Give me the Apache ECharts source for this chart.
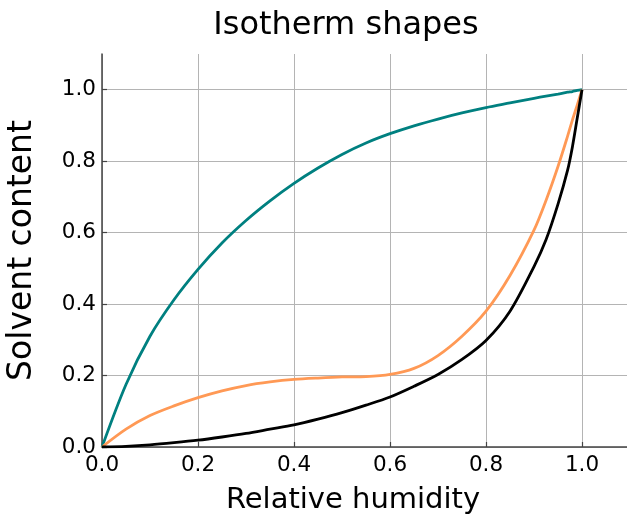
<!DOCTYPE html>
<html>
<head>
<meta charset="utf-8">
<script src="https://cdn.jsdelivr.net/npm/echarts@6/dist/echarts.min.js"></script>
<style>
  html, body { margin: 0; padding: 0; background: #fff; }
  #chart { width: 627px; height: 514px; }
</style>
</head>
<body>
<div id="chart"></div>
<script>
// Relative humidity sample points
const humidity = [0, 0.05, 0.1, 0.15, 0.2, 0.25, 0.3, 0.35, 0.4, 0.45, 0.5, 0.55, 0.6, 0.65, 0.7, 0.75, 0.8, 0.85, 0.9, 0.925, 0.95, 0.97, 0.98, 0.99, 1.0];

// Solvent content for the three isotherm shapes
const concaveIsotherm = [0, 0.175, 0.31, 0.412, 0.497, 0.571, 0.634, 0.689, 0.738, 0.781, 0.819, 0.851, 0.877, 0.899, 0.918, 0.935, 0.950, 0.963, 0.976, 0.982, 0.988, 0.993, 0.995, 0.998, 1.0];
const sigmoidIsotherm = [0, 0.05, 0.088, 0.115, 0.138, 0.157, 0.172, 0.182, 0.189, 0.193, 0.196, 0.197, 0.203, 0.22, 0.256, 0.31, 0.38, 0.48, 0.607, 0.69, 0.785, 0.87, 0.915, 0.957, 1.0];
const convexIsotherm = [0, 0.002, 0.006, 0.012, 0.019, 0.028, 0.038, 0.05, 0.062, 0.078, 0.096, 0.117, 0.14, 0.17, 0.203, 0.245, 0.298, 0.38, 0.505, 0.58, 0.68, 0.775, 0.84, 0.92, 1.0];

const axisTicks = [0, 0.2, 0.4, 0.6, 0.8, 1.0];

const FONT = 'DejaVu Sans';
const pairs = ys => humidity.map((x, i) => [x, ys[i]]);

const chart = echarts.init(document.getElementById('chart'), null, { renderer: 'canvas' });

const axisCommon = {
  type: 'value',
  min: 0,
  max: 1.1,
  interval: 0.2,
  axisLine: { show: true, onZero: false, lineStyle: { color: '#444', width: 1.5 } },
  axisTick: { show: true, inside: true, length: 5, lineStyle: { color: '#444', width: 1.2 } },
  splitLine: { show: true, showMaxLine: false, lineStyle: { color: '#b4b4b4', width: 1 } },
  axisLabel: {
    showMaxLabel: false,
    color: '#000',
    fontFamily: FONT,
    fontSize: 21.5,
    formatter: v => (axisTicks.some(t => Math.abs(t - v) < 1e-9) ? v.toFixed(1) : '')
  },
  nameLocation: 'middle',
  nameTextStyle: { color: '#000', fontFamily: FONT, fontSize: 29 }
};

const lineSeries = (name, ys, color) => ({
  name,
  type: 'line',
  data: pairs(ys),
  showSymbol: false,
  smooth: 0.3,
  lineStyle: { color, width: 2.8 },
  z: 3
});

chart.setOption({
  animation: false,
  backgroundColor: '#fff',
  title: {
    text: 'Isotherm shapes',
    left: 341,
    top: 5,
    textAlign: 'center',
    textStyle: { color: '#000', fontFamily: FONT, fontSize: 32, fontWeight: 'normal' }
  },
  grid: { left: 102, right: -3, top: 54, bottom: 67, containLabel: false, outerBoundsMode: 'none' },
  xAxis: Object.assign({}, axisCommon, {
    name: 'Relative humidity',
    nameGap: 39,
    axisLabel: Object.assign({}, axisCommon.axisLabel, { margin: 7 }),
    nameTextStyle: Object.assign({}, axisCommon.nameTextStyle, { padding: [0, 26, 0, 0] })
  }),
  yAxis: Object.assign({}, axisCommon, {
    name: 'Solvent content',
    nameGap: 63,
    axisLabel: Object.assign({}, axisCommon.axisLabel, { margin: 6 }),
    nameTextStyle: Object.assign({}, axisCommon.nameTextStyle, { fontSize: 33 })
  }),
  series: [
    lineSeries('Concave', concaveIsotherm, '#008080'),
    lineSeries('Sigmoid', sigmoidIsotherm, '#ff9955'),
    lineSeries('Convex', convexIsotherm, '#000000')
  ]
});
</script>
</body>
</html>
